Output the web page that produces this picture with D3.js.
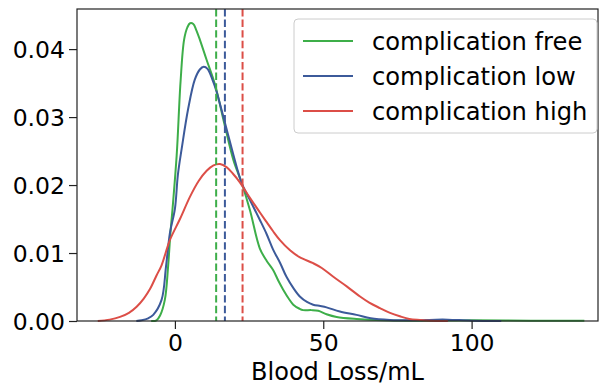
<!DOCTYPE html>
<html><head><meta charset="utf-8">
<script src="https://cdn.jsdelivr.net/npm/d3@7/dist/d3.min.js"></script>
<style>body{margin:0;background:#fff}svg{display:block}text{font-family:"DejaVu Sans",sans-serif;fill:#000}</style>
</head><body><svg id="c" width="600" height="385"></svg>
<script>
const seriesNames = ["complication free", "complication low", "complication high"];
const seriesColors = ["#3dae49", "#3c5a9a", "#dc4e47"];
const meanValues = [13.9, 16.85, 22.8];
const xTicks = [0, 50, 100];
const yTicks = [0.00, 0.01, 0.02, 0.03, 0.04];

const freeX = [-8,-6.2,-5,-3.4,-2.3,-1.5,-0.8,0.6,1.9,3.1,4.2,5.1,6.2,7.2,8.4,10.7,13.5,16.9,19.7,22.5,25.3,28.6,31,33.1,35,36.5,38.5,39.9,42,43.2,46,48.3,51.1,54.5,61.2,70,85,100,120,138];
const freeY = [0,0.0001,0.0008,0.0031,0.008,0.013,0.0165,0.0244,0.0352,0.0414,0.0432,0.0438,0.0437,0.0428,0.0414,0.0384,0.0348,0.0286,0.0237,0.0203,0.0163,0.0107,0.0088,0.0075,0.0058,0.0046,0.0032,0.0024,0.0018,0.0016,0.0016,0.0015,0.001,0.0006,0.0003,0.0001,0.00003,0.0001,0.00005,0.00002];

const lowX = [-13,-11.2,-9,-7.3,-4.5,-3.0,-1.7,0,1.0,2.3,4.5,6.7,8.4,9.7,11.0,12.9,14.0,16.9,20.8,22.5,25.3,28.6,30.9,33.1,35.5,37.6,40,42.1,44.5,46.6,49,51.1,55.6,61.2,66,72.5,80,88,92,100,110];
const lowY = [0,0.0001,0.0004,0.0009,0.0031,0.008,0.0129,0.0165,0.0215,0.0254,0.0313,0.0355,0.0370,0.0374,0.0371,0.0352,0.0338,0.0291,0.0227,0.0203,0.0178,0.0149,0.0128,0.0105,0.0085,0.0065,0.0048,0.0036,0.0028,0.0024,0.0022,0.002,0.0014,0.0009,0.0004,0.00015,0.0001,0.0002,0.0002,0.00005,0];

const highX = [-26,-22,-18.5,-15.5,-12.9,-10.5,-8.4,-6.2,-4.5,-1.7,1.7,5.1,8,10.7,13,15.2,17.5,19.5,21.9,25,28.6,31,33.1,35.4,38.8,42,46.6,49.5,53.4,57.9,62.4,65.5,69.1,72.5,75.8,79,82.6,86,92];
const highY = [0,0.0002,0.0006,0.0012,0.0021,0.0033,0.0047,0.0067,0.0082,0.0119,0.0150,0.0183,0.0206,0.0221,0.0229,0.0231,0.0226,0.0217,0.0204,0.0183,0.0160,0.0145,0.0132,0.0119,0.0104,0.0094,0.0085,0.0078,0.0065,0.0051,0.0036,0.0027,0.0019,0.0012,0.0007,0.0003,0.00015,0.00005,0];

const seriesX = [freeX, lowX, highX];
const seriesY = [freeY, lowY, highY];

const svg = d3.select("#c");
const L = 77, R = 598, T = 9, B = 321;
const x = d3.scaleLinear().domain([-33.0, 142.6]).range([L, R]);
const y = d3.scaleLinear().domain([0, 0.0459]).range([B, T]);

// curves
const line = d3.line().x(d => x(d[0])).y(d => Math.min(B, y(d[1]))).curve(d3.curveCatmullRom.alpha(0.5));
seriesX.forEach((xs, i) => {
  const pts = xs.map((v, j) => [v, seriesY[i][j]]);
  svg.append("path").attr("d", line(pts)).attr("fill", "none")
    .attr("stroke", seriesColors[i]).attr("stroke-width", 2).attr("stroke-linejoin", "round");
});

// mean lines
meanValues.forEach((m, i) => {
  svg.append("line").attr("x1", x(m)).attr("x2", x(m)).attr("y1", T).attr("y2", B)
    .attr("stroke", seriesColors[i]).attr("stroke-width", 2).attr("stroke-dasharray", "7.4,3.2");
});

// axes
const xAxis = svg.append("g").attr("transform", `translate(0,${B})`)
  .call(d3.axisBottom(x).tickValues(xTicks).tickFormat(d3.format("d")).tickSize(8).tickPadding(5));
const yAxis = svg.append("g").attr("transform", `translate(${L},0)`)
  .call(d3.axisLeft(y).tickValues(yTicks).tickFormat(d3.format(".2f")).tickSize(8).tickPadding(4));
[xAxis, yAxis].forEach(g => {
  g.select(".domain").remove();
  g.selectAll(".tick line").attr("stroke", "#222").attr("stroke-width", 1.2);
  g.selectAll(".tick text").style("font-size", "23.5px").style("font-family", "DejaVu Sans").attr("fill", "#000");
});
yAxis.selectAll(".tick text").attr("dy", "0.36em");

// frame
svg.append("rect").attr("x", L).attr("y", T).attr("width", R - L).attr("height", B - T)
  .attr("fill", "none").attr("stroke", "#222").attr("stroke-width", 1.2);

// x label
svg.append("text").attr("x", (L + R) / 2).attr("y", 380).attr("text-anchor", "middle")
  .style("font-size", "24px").text("Blood Loss/mL");

// legend
const lg = svg.append("g");
lg.append("rect").attr("x", 294).attr("y", 19).attr("width", 303).attr("height", 114).attr("rx", 4)
  .attr("fill", "#fff").attr("fill-opacity", 0.8).attr("stroke", "#cccccc").attr("stroke-width", 1);
seriesNames.forEach((n, i) => {
  const yy = 41 + i * 35;
  lg.append("line").attr("x1", 303).attr("x2", 353).attr("y1", yy).attr("y2", yy)
    .attr("stroke", seriesColors[i]).attr("stroke-width", 2);
  lg.append("text").attr("x", 372).attr("y", yy).attr("dy", "0.36em")
    .style("font-size", "24.2px").text(n);
});
</script></body></html>
